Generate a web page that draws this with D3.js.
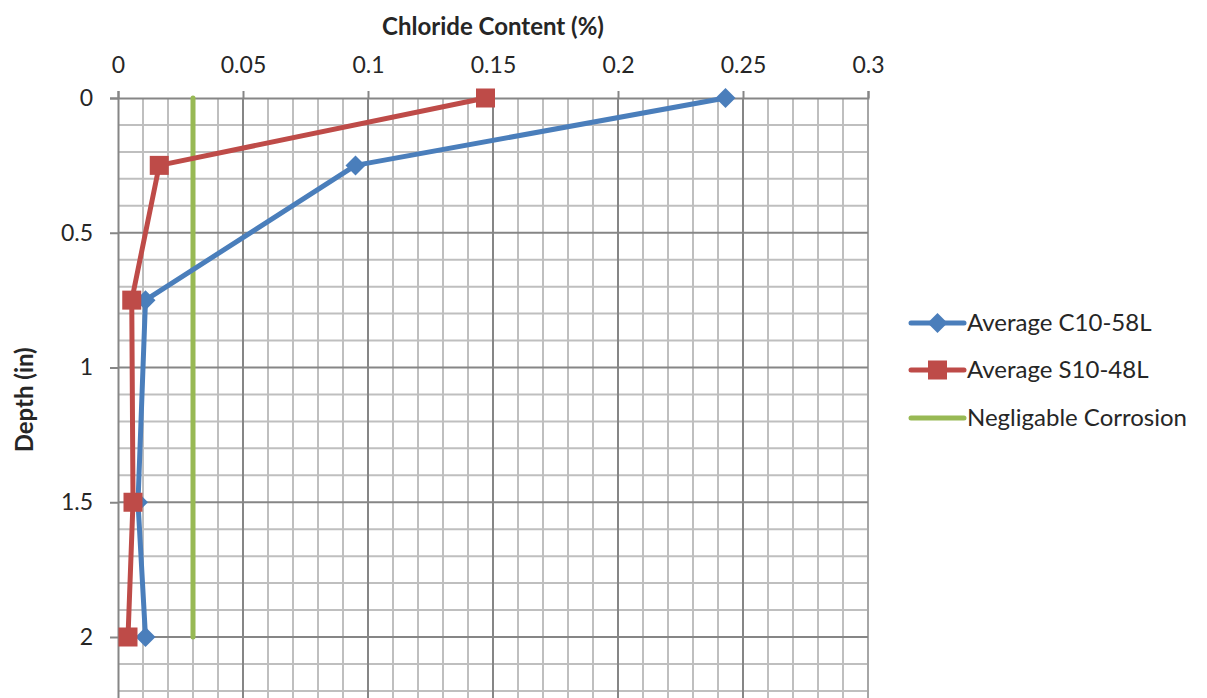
<!DOCTYPE html>
<html>
<head>
<meta charset="utf-8">
<script src="https://cdn.jsdelivr.net/npm/d3@7"></script>
<style>
  html, body { margin: 0; padding: 0; background: #fff; }
  svg { display: block; }
  text { font-family: Lato, "Open Sans", sans-serif; fill: #262626; }
</style>
</head>
<body>
<svg id="chart" width="1207" height="698"></svg>
<script>
// Depth (in) of each sample
const depths = [0, 0.25, 0.75, 1.5, 2];
// Chloride content (%) for each specimen
const c1058L = [0.243, 0.095, 0.011, 0.008, 0.011];
const s1048L = [0.147, 0.0165, 0.0055, 0.006, 0.004];
// Threshold for negligible corrosion
const negligibleDepths = [0, 2];
const negligibleValue = [0.03, 0.03];

const xTicks = [0, 0.05, 0.1, 0.15, 0.2, 0.25, 0.3];
const yTicks = [0, 0.5, 1, 1.5, 2];
const seriesNames = ["Average C10-58L", "Average S10-48L", "Negligable Corrosion"];

const colors = { blue: "#4a7ebb", red: "#be4b48", green: "#98b954" };
const fontStack = "Lato, 'Open Sans', sans-serif";

const svg = d3.select("#chart");
const plotLeft = 118, plotRight = 868, plotTop = 98;

const x = d3.scaleLinear().domain([0, 0.3]).range([plotLeft, plotRight]);
const y = d3.scaleLinear().domain([0, 2.5]).range([plotTop, plotTop + 5 * 134.75]);

const grid = svg.append("g");

// minor grid
const xMinor = d3.range(0, 0.3001, 0.01).filter(v => Math.abs(v / 0.05 - Math.round(v / 0.05)) > 1e-6);
const yMinor = d3.range(0, 2.5001, 0.1).filter(v => Math.abs(v / 0.5 - Math.round(v / 0.5)) > 1e-6);

grid.selectAll(".vmin").data(xMinor).enter().append("line")
  .attr("x1", d => x(d)).attr("x2", d => x(d))
  .attr("y1", y(0)).attr("y2", y(2.5))
  .attr("stroke", "#bfbfbf").attr("stroke-width", 2);
grid.selectAll(".hmin").data(yMinor).enter().append("line")
  .attr("x1", x(0)).attr("x2", x(0.3))
  .attr("y1", d => y(d)).attr("y2", d => y(d))
  .attr("stroke", "#bfbfbf").attr("stroke-width", 2);

// major grid
grid.selectAll(".vmaj").data(xTicks.slice(1)).enter().append("line")
  .attr("x1", d => x(d)).attr("x2", d => x(d))
  .attr("y1", y(0)).attr("y2", y(2.5))
  .attr("stroke", d => d === 0.3 ? "#a6a6a6" : "#868686").attr("stroke-width", 2);
grid.selectAll(".hmaj").data(yTicks.slice(1)).enter().append("line")
  .attr("x1", x(0)).attr("x2", x(0.3))
  .attr("y1", d => y(d)).attr("y2", d => y(d))
  .attr("stroke", "#868686").attr("stroke-width", 2);

// axes (top and left)
const xAxis = d3.axisTop(x).tickValues(xTicks).tickSize(7).tickPadding(18)
  .tickFormat(d => d === 0 ? "0" : String(+d.toFixed(2)));
const gx = svg.append("g").attr("transform", `translate(0,${plotTop})`).call(xAxis);
gx.select(".domain").attr("stroke", "#868686").attr("stroke-width", 2);
gx.selectAll(".tick line").attr("stroke", "#868686").attr("stroke-width", 2);
gx.selectAll(".tick text").attr("font-size", 23).attr("fill", "#262626")
  .style("font-family", fontStack);

const yAxis = d3.axisLeft(y).tickValues(yTicks).tickSize(8).tickPadding(17)
  .tickFormat(d => String(d));
const gy = svg.append("g").attr("transform", `translate(${plotLeft},0)`).call(yAxis);
gy.select(".domain").attr("stroke", "#868686").attr("stroke-width", 2);
gy.selectAll(".tick line").attr("stroke", "#868686").attr("stroke-width", 2);
gy.selectAll(".tick text").attr("font-size", 23).attr("fill", "#262626")
  .style("font-family", fontStack);

// axis titles
svg.append("text").attr("x", (plotLeft + plotRight) / 2).attr("y", 35)
  .attr("text-anchor", "middle").attr("font-size", 24).attr("font-weight", "bold")
  .text("Chloride Content (%)");
svg.append("text").attr("transform", `translate(33,${y(1.12)}) rotate(-90)`)
  .attr("text-anchor", "middle").attr("font-size", 24).attr("font-weight", "bold")
  .text("Depth (in)");

const line = d3.line().x(d => x(d[0])).y(d => y(d[1]));

// threshold line
svg.append("path")
  .datum(negligibleValue.map((v, i) => [v, negligibleDepths[i]]))
  .attr("d", line).attr("fill", "none")
  .attr("stroke", colors.green).attr("stroke-width", 5).attr("stroke-linecap", "round");

const blueData = c1058L.map((v, i) => [v, depths[i]]);
const redData = s1048L.map((v, i) => [v, depths[i]]);

const diamond = (g, cx, cy, r) => g.append("path")
  .attr("d", `M${cx},${cy - r}L${cx + r},${cy}L${cx},${cy + r}L${cx - r},${cy}Z`)
  .attr("fill", colors.blue);
const square = (g, cx, cy, s) => g.append("rect")
  .attr("x", cx - s / 2).attr("y", cy - s / 2).attr("width", s).attr("height", s)
  .attr("fill", colors.red);

// C10-58L
const gBlue = svg.append("g");
gBlue.append("path").datum(blueData).attr("d", line).attr("fill", "none")
  .attr("stroke", colors.blue).attr("stroke-width", 5).attr("stroke-linejoin", "round");
blueData.forEach(d => diamond(gBlue, x(d[0]), y(d[1]), 10));

// S10-48L
const gRed = svg.append("g");
gRed.append("path").datum(redData).attr("d", line).attr("fill", "none")
  .attr("stroke", colors.red).attr("stroke-width", 5).attr("stroke-linejoin", "round");
redData.forEach(d => square(gRed, x(d[0]), y(d[1]), 19));

// legend
const legend = svg.append("g");
const legY = [323, 370, 418];
seriesNames.forEach((name, i) => {
  const col = [colors.blue, colors.red, colors.green][i];
  legend.append("line").attr("x1", 911).attr("x2", 964)
    .attr("y1", legY[i]).attr("y2", legY[i])
    .attr("stroke", col).attr("stroke-width", 5).attr("stroke-linecap", "round");
  if (i === 0) diamond(legend, 937.5, legY[i], 10);
  if (i === 1) square(legend, 937.5, legY[i], 19);
  legend.append("text").attr("x", 967).attr("y", legY[i] + 8)
    .attr("font-size", 24).text(name);
});
</script>
</body>
</html>
